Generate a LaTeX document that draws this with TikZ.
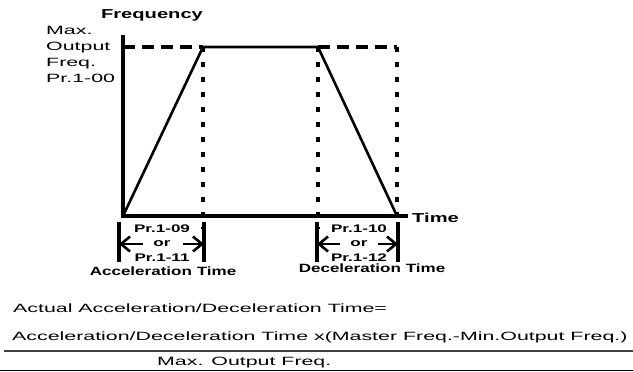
\documentclass[tikz,border=0pt]{standalone}
\usepackage{fontspec}
\setmainfont{Liberation Sans}
\usepackage{graphicx}
\usetikzlibrary{arrows.meta,positioning}

% wide text, the letters are stretched sideways
\newcommand{\wide}[1]{\scalebox{1.78}[1]{#1}}
\newcommand{\widebf}[1]{\scalebox{1.55}[1]{\bfseries #1}}

\tikzset{
  axisline/.style={line width=3.2pt},
  rampline/.style={line width=2.6pt},
  maxline/.style={line width=3.6pt,dash pattern=on 12pt off 7pt},
  dotline/.style={line width=4pt,dash pattern=on 5pt off 10pt},
  dimbar/.style={line width=4pt},
  dimarrow/.style={line width=2.6pt,-{Straight Barb[length=9pt,width=15pt]}},
  plain/.style={inner sep=0pt,font=\fontsize{12}{16}\selectfont},
  heading/.style={inner sep=0pt,font=\fontsize{13}{15}\selectfont},
  small/.style={inner sep=0pt,font=\fontsize{11}{13}\selectfont}
}

\begin{document}
\begin{tikzpicture}[x=1pt,y=-1pt]
  \useasboundingbox (0,0) rectangle (633,372);

  % Points of the curve
  \coordinate (O) at (123,216);
  \coordinate (ytop) at (123,35);
  \coordinate (xend) at (408,216);
  \coordinate (fmax) at (123,47);
  \coordinate (acc) at (203,47);
  \coordinate (dec) at (318,47);
  \coordinate (dtop) at (397,47);
  \coordinate (stop) at (397,216);
  \coordinate (accbot) at (203,229);
  \coordinate (decbot) at (318,229);

  % Guide lines
  \draw[dotline] (acc) -- (accbot);
  \draw[dotline] (dec) -- (decbot);
  \draw[dotline] (dtop) -- (stop);
  \draw[maxline] (fmax) -- (acc);
  \draw[maxline] (dec) -- (dtop);

  % Axes
  \draw[axisline] (ytop) -- (O) -- (xend);

  % Speed curve
  \draw[rampline,line join=round] (O) -- (acc) -- (dec) -- (stop);

  % Axis labels
  \node[heading] (freq) at (152,15) {\widebf{Frequency}};
  \node[heading,anchor=west] (time) at (412,218) {\widebf{Time}};
  \node[plain,anchor=north west,align=left] (fmaxlbl) at (46,26)
    {\wide{Max.}\\\wide{Output}\\\wide{Freq.}\\\wide{Pr.1-00}};

  % Acceleration time
  \coordinate (acca) at (119,222);
  \coordinate (accb) at (119,262);
  \coordinate (accc) at (204,222);
  \coordinate (accd) at (204,262);
  \draw[dimbar] (acca) -- (accb);
  \draw[dimbar] (accc) -- (accd);
  \node[small] (accpr) at (162,229) {\widebf{Pr.1-09}};
  \node[small] (accor) at (162,244) {\widebf{or}};
  \node[small] (accpr2) at (162,258) {\widebf{Pr.1-11}};
  \coordinate (accl) at (143,244);
  \coordinate (accr) at (183,244);
  \draw[dimarrow] (accl) -- (acca |- accor);
  \draw[dimarrow] (accr) -- (accc |- accor);
  \node[small,font=\fontsize{12}{14}\selectfont] (acclbl) at (163,271)
    {\scalebox{1.42}[1]{\bfseries Acceleration Time}};

  % Deceleration time
  \coordinate (deca) at (317,222);
  \coordinate (decb) at (317,262);
  \coordinate (decc) at (398,222);
  \coordinate (decd) at (398,262);
  \draw[dimbar] (deca) -- (decb);
  \draw[dimbar] (decc) -- (decd);
  \node[small] (decpr) at (359,229) {\widebf{Pr.1-10}};
  \node[small] (decor) at (359,244) {\widebf{or}};
  \node[small] (decpr2) at (359,258) {\widebf{Pr.1-12}};
  \coordinate (decl) at (340,244);
  \coordinate (decr) at (378,244);
  \draw[dimarrow] (decl) -- (deca |- decor);
  \draw[dimarrow] (decr) -- (decc |- decor);
  \node[small,font=\fontsize{12}{14}\selectfont] (declbl) at (372,268)
    {\scalebox{1.42}[1]{\bfseries Deceleration Time}};

  % Formula
  \node[plain,anchor=west] (actual) at (13,308)
    {\wide{Actual Acceleration/Deceleration Time=}};
  \node[plain,anchor=west] (numer) at (12,337)
    {\wide{Acceleration/Deceleration Time x(Master Freq.-Min.Output Freq.)}};
  \node[plain,anchor=west] (denom) at (157,363) {\wide{Max. Output Freq.}};
  \coordinate (fracl) at (4,351);
  \coordinate (fracr) at (633,351);
  \draw[line width=1.2pt,black!75] (fracl) -- (fracr);
  \coordinate (basel) at (0,370.5);
  \coordinate (baser) at (633,370.5);
  \draw[line width=1.6pt] (basel) -- (baser);
\end{tikzpicture}
\end{document}
